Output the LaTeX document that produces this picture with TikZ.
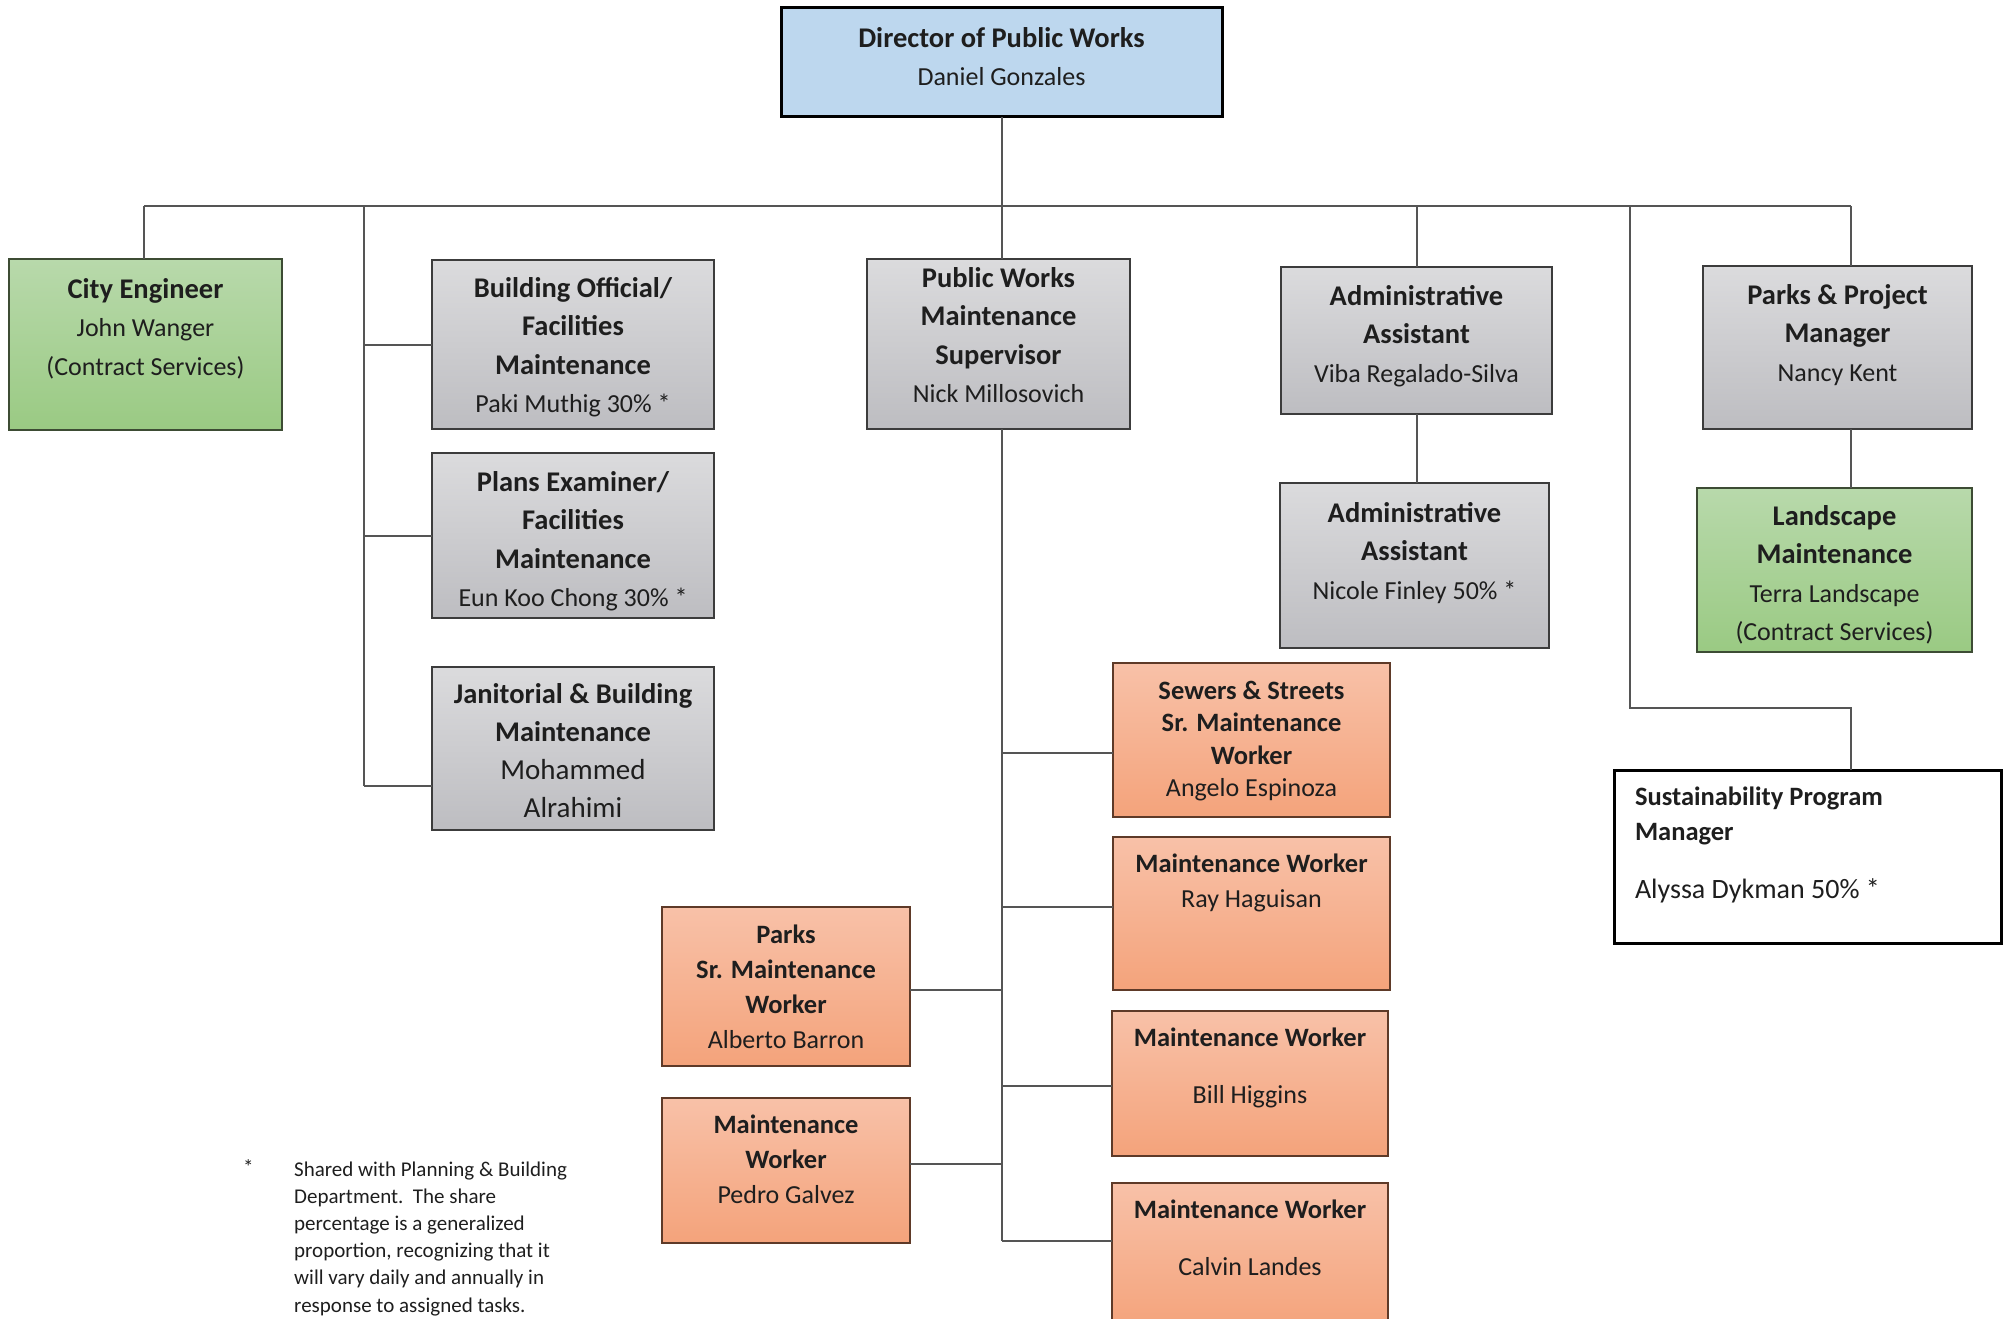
\documentclass[tikz,border=0pt]{standalone}
\usepackage{fontspec}
\setmainfont{Carlito}
\definecolor{dirblue}{HTML}{BDD7EE}
\definecolor{graytop}{HTML}{DBDBDD}
\definecolor{graybot}{HTML}{BDBDC1}
\definecolor{greentop}{HTML}{B8D9AB}
\definecolor{greenbot}{HTML}{9ACA83}
\definecolor{orangetop}{HTML}{F8C1A8}
\definecolor{orangebot}{HTML}{F4A37B}
\definecolor{edge}{HTML}{3C3C3C}
\definecolor{greenedge}{HTML}{3D4C34}
\definecolor{orangeedge}{HTML}{5E3A28}
\definecolor{connc}{HTML}{555555}
\definecolor{txt}{HTML}{1E1E1E}
\newcommand{\hd}[1]{{\fontsize{28.5}{38.5}\selectfont\bfseries #1}}
\newcommand{\hs}[1]{{\fontsize{26.5}{35}\selectfont\bfseries #1}}
\tikzset{
	box/.style={draw=edge, line width=2pt, inner sep=0pt, outer sep=0pt, align=center,
			anchor=base, text=txt, font=\fontsize{26}{38.5}\selectfont},
	graybox/.style={box, top color=graytop, bottom color=graybot},
	greenbox/.style={box, draw=greenedge, top color=greentop, bottom color=greenbot},
	orangebox/.style={box, draw=orangeedge, top color=orangetop, bottom color=orangebot,
			font=\fontsize{26}{35}\selectfont},
	conn/.style={draw=connc, line width=2pt}
}
\begin{document}
\begin{tikzpicture}[x=1pt,y=-1pt]
		\useasboundingbox (0,0) rectangle (2011,1319);

		% top level
		\node[box, fill=dirblue, draw=black, line width=3pt, minimum width=441, text height=78, text depth=31] (dir) at (1001.5,86) {\hd{Director of Public Works}\\Daniel Gonzales};

		% second row
		\node[greenbox, minimum width=273, text height=116, text depth=55] (ce) at (145.5,375) {\hd{City Engineer}\\John Wanger\\(Contract Services)};
		\node[graybox, minimum width=282, text height=152.5, text depth=16.5] (bo) at (573,412.5) {\hd{Building Official/}\\\hd{Facilities}\\\hd{Maintenance}\\Paki Muthig 30\% *};
		\node[graybox, minimum width=282, text height=153.5, text depth=11.5] (pe) at (573,606.5) {\hd{Plans Examiner/}\\\hd{Facilities}\\\hd{Maintenance}\\Eun Koo Chong 30\% *};
		\node[graybox, minimum width=282, text height=150, text depth=13, font=\fontsize{29}{38}\selectfont] (jb) at (573,817) {\hd{Janitorial \& Building}\\\hd{Maintenance}\\Mohammed\\Alrahimi};
		\node[graybox, minimum width=263, text height=143.5, text depth=26.5] (sup) at (998.5,402.5) {\hd{Public Works}\\\hd{Maintenance}\\\hd{Supervisor}\\Nick Millosovich};
		\node[graybox, minimum width=271, text height=115, text depth=32] (av) at (1416.5,382) {\hd{Administrative}\\\hd{Assistant}\\Viba Regalado-Silva};
		\node[graybox, minimum width=269, text height=116, text depth=49] (an) at (1414.5,599) {\hd{Administrative}\\\hd{Assistant}\\Nicole Finley 50\% *};
		\node[graybox, minimum width=269, text height=115, text depth=48] (pp) at (1837.5,381) {\hd{Parks \& Project}\\\hd{Manager}\\Nancy Kent};
		\node[greenbox, minimum width=275, text height=152.5, text depth=11.5] (ls) at (1834.5,640.5) {\hd{Landscape}\\\hd{Maintenance}\\Terra Landscape\\(Contract Services)};
		\node[box, draw=black, line width=3pt, fill=white, text width=345, inner xsep=21, align=flush left, text height=35, text depth=138, font=\fontsize{28}{35}\selectfont] (sp) at (1807.5,805) {\hs{Sustainability Program}\\\hs{Manager}\\[23pt]Alyssa Dykman 50\% *};

		% maintenance crew
		\node[orangebox, minimum width=277, text height=133.5, text depth=20.5, font=\fontsize{26}{32.5}\selectfont] (sw) at (1251.5,796.5) {\hs{Sewers \& Streets}\\\hs{Sr. Maintenance}\\\hs{Worker}\\Angelo Espinoza};
		\node[orangebox, minimum width=277, text height=70, text depth=83] (rh) at (1251.5,907) {\hs{Maintenance Worker}\\Ray Haguisan};
		\node[orangebox, minimum width=276, text height=92, text depth=53] (bh) at (1250,1103) {\hs{Maintenance Worker}\\[22pt]Bill Higgins};
		\node[orangebox, minimum width=276, text height=92, text depth=55] (cl) at (1250,1275) {\hs{Maintenance Worker}\\[22pt]Calvin Landes};
		\node[orangebox, minimum width=248, text height=141, text depth=18] (ps) at (786,1048) {\hs{Parks}\\\hs{Sr. Maintenance}\\\hs{Worker}\\Alberto Barron};
		\node[orangebox, minimum width=248, text height=105, text depth=40] (pg) at (786,1203) {\hs{Maintenance}\\\hs{Worker}\\Pedro Galvez};

		% footnote
		\node[anchor=base west, inner sep=0pt, text=txt, font=\fontsize{21}{27.2}\selectfont] (ast) at (243,1174) {*};
		\node[anchor=base west, inner sep=0pt, align=left, text=txt, font=\fontsize{21}{27.2}\selectfont] (note) at (294,1312) {Shared with Planning \& Building\\Department.\ \ The share\\percentage is a generalized\\proportion, recognizing that it\\will vary daily and annually in\\response to assigned tasks.};

		% connectors
		\coordinate (busl) at (144,206);
		\coordinate (busr) at (1851,206);
		\coordinate (lt) at (364,206);
		\coordinate (sb) at (1630,206);
		\coordinate (trunk) at (1002,1241);

		\draw[conn] (busl) -- (busr);
		\draw[conn] (dir.south) -- (dir.south |- busl);
		\draw[conn] (dir.south |- busl) -- (dir.south |- sup.north);
		\draw[conn] (busl) -- (busl |- ce.north);

		\draw[conn] (lt) -- (lt |- 0,786);
		\draw[conn] (lt |- bo.west) -- (bo.west);
		\draw[conn] (lt |- pe.west) -- (pe.west);
		\draw[conn] (lt |- 0,786) -- (jb.west |- 0,786);

		\draw[conn] (sup.south -| trunk) -- (trunk);
		\draw[conn] (trunk |- 0,753) -- (sw.west |- 0,753);
		\draw[conn] (trunk |- 0,907) -- (rh.west |- 0,907);
		\draw[conn] (trunk |- 0,1086) -- (bh.west |- 0,1086);
		\draw[conn] (trunk) -- (cl.west |- trunk);
		\draw[conn] (trunk |- 0,990) -- (ps.east |- 0,990);
		\draw[conn] (trunk |- 0,1164) -- (pg.east |- 0,1164);

		\draw[conn] (av.north |- busl) -- (av.north);
		\draw[conn] (av.south) -- (av.south |- an.north);
		\draw[conn] (busr) -- (busr |- pp.north);
		\draw[conn] (busr |- pp.south) -- (busr |- ls.north);
		\draw[conn] (sb) |- (busr |- 0,708) -- (busr |- sp.north);
	\end{tikzpicture}
\end{document}
